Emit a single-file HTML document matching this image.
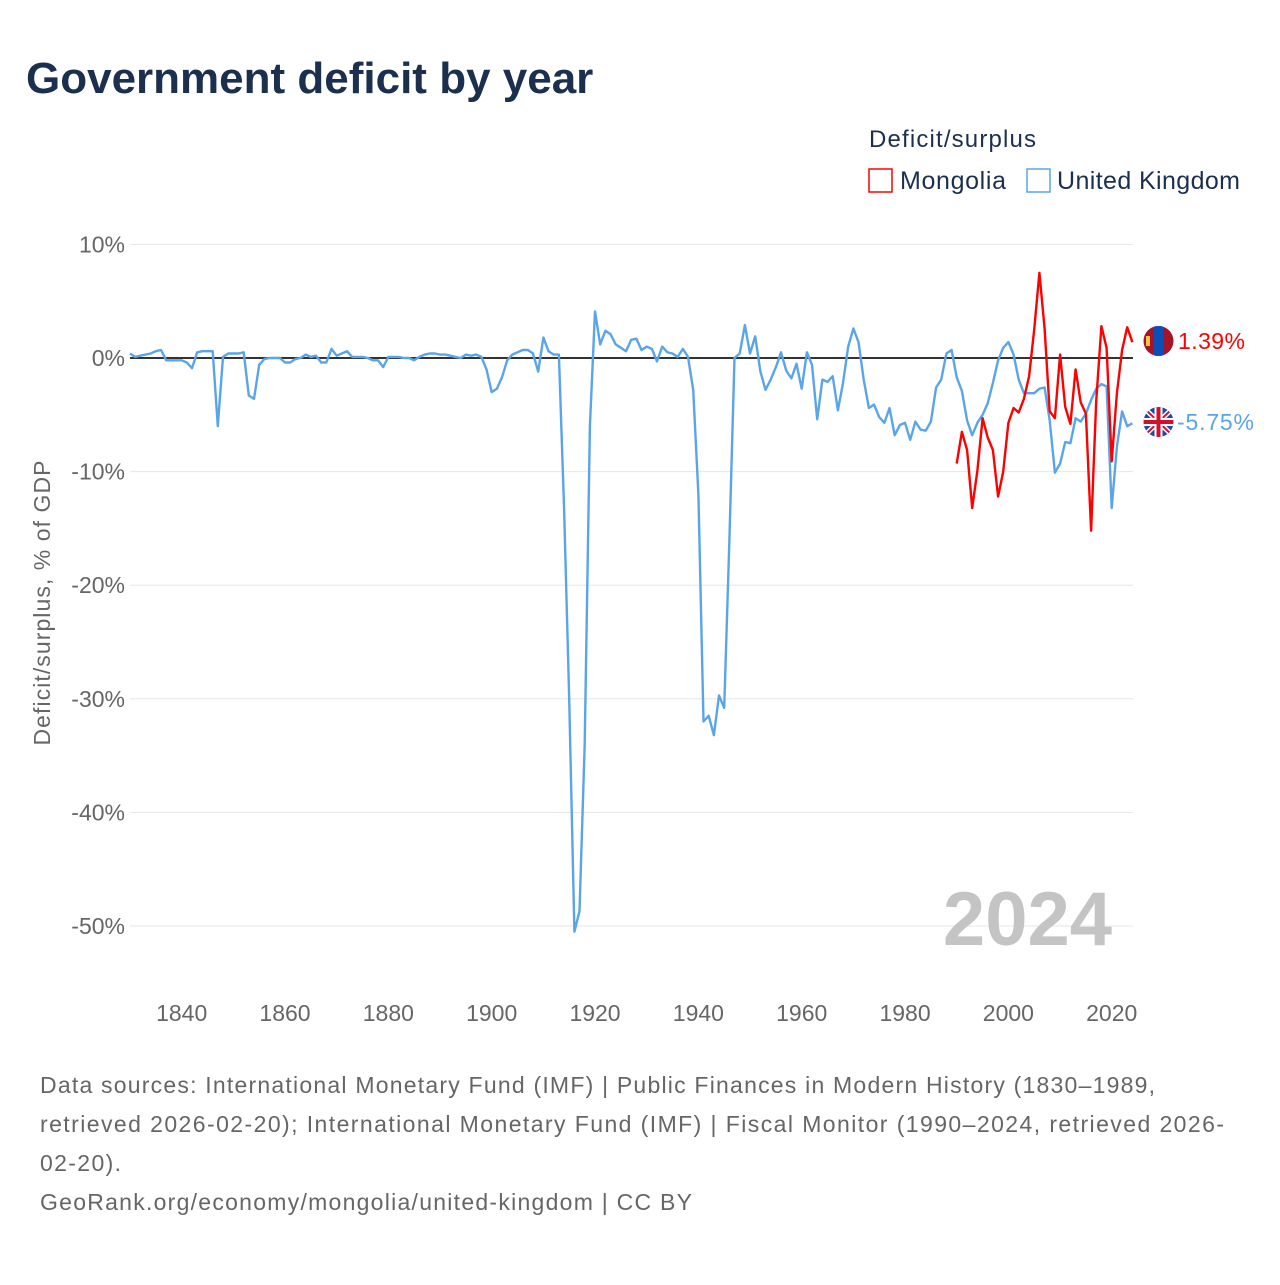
<!DOCTYPE html>
<html><head><meta charset="utf-8"><style>
body{margin:0;background:#fff;width:1280px;height:1280px;overflow:hidden;font-family:"Liberation Sans",sans-serif}
</style></head><body>
<svg width="1280" height="1280" xmlns="http://www.w3.org/2000/svg">
<text x="26" y="93" font-size="44" font-weight="bold" fill="#1b2f4f">Government deficit by year</text>
<text x="869" y="147" font-size="24" fill="#1b2f4f" textLength="167">Deficit/surplus</text>
<g><rect x="869" y="169" width="23" height="23" fill="none" stroke="#f00" stroke-width="1.5"/><text x="900" y="189" font-size="25" fill="#1b2f4f" textLength="106">Mongolia</text></g>
<g><rect x="1027" y="169" width="23" height="23" fill="none" stroke="#5aa5ea" stroke-width="1.5"/><text x="1057" y="189" font-size="25" fill="#1b2f4f" textLength="183">United Kingdom</text></g>
<g id="grid"></g><g id="xt"></g>
<text transform="translate(50,603) rotate(-90)" text-anchor="middle" font-size="23" fill="#666" textLength="285">Deficit/surplus, % of GDP</text>
<text x="1112" y="945" text-anchor="end" font-size="76" font-weight="bold" fill="#c4c4c4">2024</text>
<g id="series"></g>
<g><clipPath id="c1"><circle cx="1158.5" cy="341" r="15"/></clipPath><g clip-path="url(#c1)"><rect x="1143" y="326" width="31" height="30" fill="#a5142a"/><rect x="1153.5" y="326" width="10" height="30" fill="#0a4fb5"/><rect x="1146" y="336" width="4" height="10" fill="#f5c542"/></g></g>
<g><clipPath id="c2"><circle cx="1158.5" cy="422" r="15"/></clipPath><g clip-path="url(#c2)"><rect x="1143" y="407" width="31" height="30" fill="#1f4aa0"/><path d="M1143 407 L1174 437 M1174 407 L1143 437" stroke="#fff" stroke-width="5"/><path d="M1143 407 L1174 437 M1174 407 L1143 437" stroke="#d0102c" stroke-width="2"/><rect x="1143" y="418" width="31" height="8" fill="#fff"/><rect x="1154.5" y="407" width="8" height="30" fill="#fff"/><rect x="1143" y="420" width="31" height="4" fill="#d0102c"/><rect x="1156.5" y="407" width="4" height="30" fill="#d0102c"/></g></g>
<text x="1178" y="349" font-size="23" fill="#f00" textLength="67">1.39%</text>
<text x="1177" y="430" font-size="23" fill="#5aa5ea" textLength="77">-5.75%</text>
<g font-size="23" fill="#666">
<text x="40" y="1093" textLength="1115">Data sources: International Monetary Fund (IMF) | Public Finances in Modern History (1830–1989,</text>
<text x="40" y="1132" textLength="1184">retrieved 2026-02-20); International Monetary Fund (IMF) | Fiscal Monitor (1990–2024, retrieved 2026-</text>
<text x="40" y="1171" textLength="81">02-20).</text>
<text x="40" y="1210" textLength="652">GeoRank.org/economy/mongolia/united-kingdom | CC BY</text>
</g>
</svg>
<script>
const ukStart = 1830;
const ukValues = [0.4,0.1,0.2,0.3,0.4,0.6,0.7,-0.2,-0.2,-0.2,-0.2,-0.4,-0.9,0.5,0.6,0.6,0.6,-6.0,0.1,0.4,0.4,0.4,0.5,-3.3,-3.6,-0.6,-0.1,0.0,0.0,0.0,
-0.4,-0.4,-0.1,0.0,0.3,0.1,0.2,-0.4,-0.4,0.8,0.2,0.4,0.6,0.1,0.1,0.1,0.0,-0.2,-0.2,-0.8,
0.1,0.1,0.1,0.0,0.0,-0.2,0.1,0.3,0.4,0.4,0.3,0.3,0.2,0.1,0.0,0.3,0.2,0.3,0.1,-1.0,
-3.0,-2.7,-1.7,-0.2,0.3,0.5,0.7,0.7,0.4,-1.2,1.8,0.6,0.3,0.3,-13,-30,-50.5,-48.7,-34,-6,
4.1,1.2,2.4,2.1,1.2,0.9,0.6,1.6,1.7,0.7,1.0,0.8,-0.3,1.0,0.5,0.4,0.1,0.8,0.1,-2.8,
-12,-32,-31.5,-33.2,-29.7,-30.8,-16,0.0,0.4,2.9,0.4,1.9,-1.2,-2.8,-1.9,-0.8,0.5,-1.1,-1.8,-0.5,
-2.7,0.5,-0.6,-5.4,-1.9,-2.1,-1.6,-4.6,-2.2,1.0,2.6,1.4,-1.9,-4.4,-4.1,-5.2,-5.7,-4.4,-6.8,-5.9,
-5.7,-7.2,-5.6,-6.3,-6.4,-5.6,-2.6,-1.9,0.4,0.7,-1.7,-2.9,-5.5,-6.8,-5.7,-5.0,-4.0,-2.2,-0.2,0.9,
1.4,0.3,-1.9,-3.1,-3.1,-3.1,-2.7,-2.6,-5.5,-10.1,-9.3,-7.4,-7.5,-5.3,-5.6,-4.9,-3.7,-2.7,-2.3,-2.5,
-13.2,-7.8,-4.7,-6.0,-5.75];
const mnStart = 1990;
const mnValues = [-9.3,-6.5,-8.1,-13.2,-9.9,-5.3,-7.0,-8.1,-12.2,-10.0,-5.7,-4.4,-4.8,-3.6,-1.6,2.5,7.5,2.6,-4.7,-5.3,
0.3,-4.3,-5.8,-1.0,-3.9,-4.9,-15.2,-3.8,2.8,0.9,-9.1,-3.1,0.7,2.7,1.39];
const yTicks = [10,0,-10,-20,-30,-40,-50];
const xTicks = [1840,1860,1880,1900,1920,1940,1960,1980,2000,2020];
const X = yr => 130 + (yr - 1830) * 5.167;
const Y = v => 358 - v * 11.36;
const NS = "http://www.w3.org/2000/svg";
const mk = (t, a, p) => { const e = document.createElementNS(NS, t); for (const k in a) e.setAttribute(k, a[k]); p.appendChild(e); return e; };
const grid = document.getElementById('grid');
yTicks.forEach(v => {
  if (v !== 0) {
    const l = mk('line', {x1:130, x2:1133, y1:Y(v), y2:Y(v), stroke:'#e6e6e6', 'stroke-width':1}, grid);
    
    
  }
  const t = mk('text', {x:125, y:Y(v)+8, 'text-anchor':'end', 'font-size':23, fill:'#666'}, grid);
  t.textContent = v + '%';
  
  
});
const xt = document.getElementById('xt');
xTicks.forEach(yr => {
  const t = mk('text', {x:X(yr), y:1021, 'text-anchor':'middle', 'font-size':23, fill:'#666'}, xt);
  t.textContent = yr;
  
  
});
const s = document.getElementById('series');
const zl = mk('line', {x1:130, x2:1133, y1:Y(0), y2:Y(0), stroke:'#333', 'stroke-width':2}, s);


function line(start, vals, col, name) {
  const d = vals.map((v, i) => (i ? 'L' : 'M') + X(start + i).toFixed(1) + ' ' + Y(v).toFixed(1)).join(' ');
  const p = mk('path', {d:d, fill:'none', stroke:col, 'stroke-width':2.4, 'stroke-linejoin':'round'}, s);
  
  
}
line(ukStart, ukValues, '#5aa5ea', 'uk-line');
line(mnStart, mnValues, '#f00', 'mongolia-line');
</script>
</body></html>
